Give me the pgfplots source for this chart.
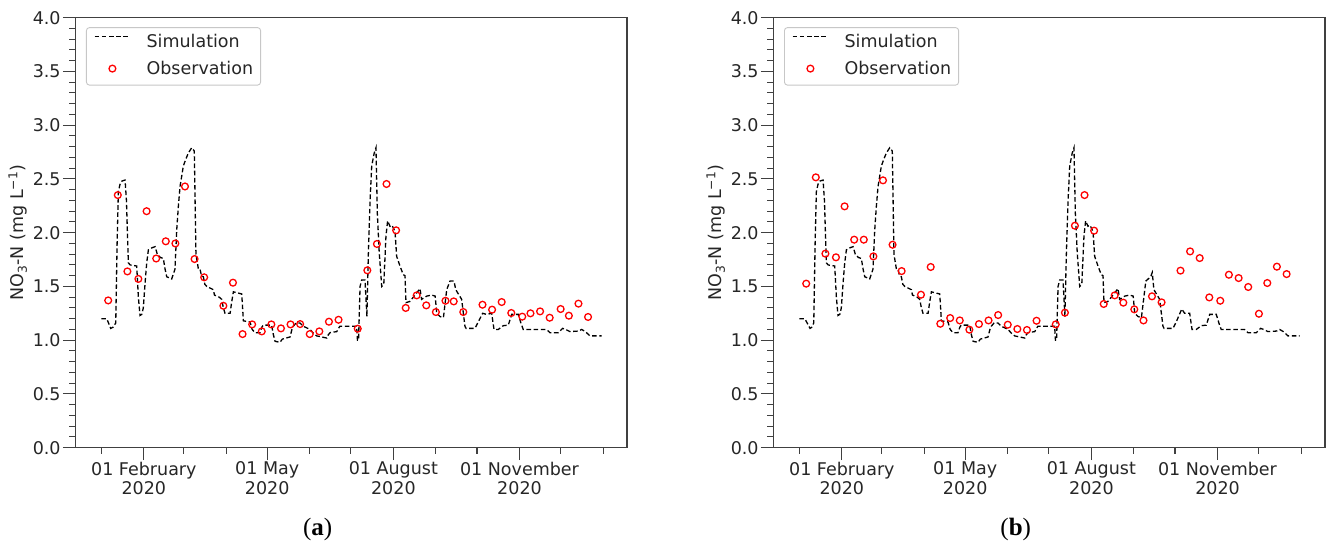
\documentclass[border=0pt]{standalone}
\usepackage{fontspec}
\setmainfont{DejaVu Sans}
\newfontfamily\capfont{Liberation Serif}
\usepackage{pgfplots}
\pgfplotsset{compat=1.18}
\usepackage{pgfplotstable}

\pgfplotstableread{
d v
0 1.20
4 1.20
6.8 1.11
8.5 1.12
10.5 1.16
11.5 1.90
12.4 2.38
13.6 2.45
15 2.48
17.3 2.49
18.3 2.30
19.7 1.72
21 1.70
25.8 1.69
27 1.40
28.2 1.23
29.5 1.24
30.6 1.30
32 1.55
33.1 1.72
34.3 1.84
37 1.86
39.2 1.87
40.8 1.80
43 1.77
45.2 1.76
46.5 1.66
47.7 1.59
51.3 1.57
53.7 1.66
55 2.03
56.2 2.25
57.4 2.43
59.8 2.62
61.5 2.68
63.4 2.74
65.9 2.79
67.8 2.76
68.5 2.20
69.0 1.80
70.8 1.66
72 1.66
73 1.60
74.4 1.59
75.5 1.52
76.9 1.50
81.7 1.47
82.5 1.42
86 1.40
87.8 1.38
89 1.30
90.2 1.25
93.9 1.25
95 1.35
96.3 1.45
102.4 1.43
103.6 1.18
108.4 1.17
110 1.10
112.1 1.07
115.7 1.07
117 1.12
118.1 1.14
124.2 1.14
125.5 1.05
126.7 0.99
130.3 0.98
132 1.01
137.6 1.03
139 1.10
140 1.13
142 1.16
144.9 1.16
147.3 1.13
152.2 1.10
155 1.06
157.1 1.04
164.4 1.02
165.5 1.05
166.8 1.07
171.7 1.08
173 1.11
174 1.13
186.2 1.13
186.8 1.00
187.6 1.00
188.7 1.50
189.9 1.56
192.3 1.56
193.7 1.22
194.7 1.78
196 2.30
197.2 2.62
199 2.74
200.3 2.79
201.3 2.18
202.7 1.81
204.5 1.50
206 1.52
207.6 1.97
208.8 2.11
210.5 2.06
212 2.07
214.2 2.01
215.4 1.78
217.8 1.69
220.2 1.61
221.5 1.60
222.2 1.35
225 1.36
228.8 1.42
232.4 1.48
233.6 1.38
237.3 1.41
240.9 1.42
243.5 1.41
244.6 1.25
247 1.22
249.5 1.21
251.9 1.47
254.3 1.55
257.2 1.55
258.5 1.47
262.8 1.38
265.2 1.13
266 1.11
272.5 1.11
274.9 1.17
278.1 1.25
281 1.24
284.7 1.25
286.4 1.10
289.5 1.10
293.2 1.135
296.8 1.14
299.3 1.24
304.1 1.24
306 1.16
307.7 1.10
324.7 1.10
327.2 1.07
333.3 1.07
336.5 1.11
338.6 1.10
341.8 1.08
348 1.085
350.3 1.10
353 1.08
356.4 1.04
364.9 1.04
}\simA

\pgfplotstableread{
d v
0 1.20
4 1.20
7.8 1.11
9 1.12
10.5 1.16
11.5 1.90
12.4 2.38
13.6 2.45
15 2.48
17.3 2.49
18.3 2.30
19.7 1.72
21 1.70
25.8 1.69
27 1.40
28.2 1.23
29.5 1.24
30.6 1.30
32 1.55
33.1 1.72
34.3 1.84
37 1.86
39.2 1.87
40.8 1.80
43 1.77
45.2 1.76
46.5 1.66
47.7 1.59
51.3 1.57
53.7 1.66
55 2.03
56.2 2.25
57.4 2.43
59.8 2.62
61.5 2.68
63.4 2.74
65.9 2.79
67.8 2.76
68.5 2.20
69.0 1.80
70.8 1.66
72 1.66
73 1.60
74.4 1.59
75.5 1.52
76.9 1.50
81.7 1.47
82.5 1.42
86 1.40
87.8 1.38
89 1.30
90.2 1.25
93.9 1.25
95 1.35
96.3 1.45
102.4 1.43
103.6 1.18
108.4 1.17
110 1.10
112.1 1.07
115.7 1.07
117 1.12
118.1 1.14
124.2 1.14
125.5 1.05
126.7 0.99
130.3 0.98
132 1.01
137.6 1.03
139 1.10
140 1.13
142 1.16
144.9 1.16
147.3 1.13
152.2 1.10
155 1.06
157.1 1.04
164.4 1.02
165.5 1.05
166.8 1.07
171.7 1.08
173 1.11
174 1.13
186.2 1.13
186.8 1.00
187.6 1.00
188.7 1.50
189.9 1.56
192.3 1.56
193.7 1.22
194.7 1.78
196 2.30
197.2 2.62
199 2.74
200.3 2.79
201.3 2.18
202.7 1.81
204.5 1.50
206 1.52
207.6 1.97
208.8 2.11
210.5 2.06
212 2.07
214.2 2.01
215.4 1.78
217.8 1.69
220.2 1.61
221.5 1.60
222.2 1.35
225 1.36
228.8 1.42
232.4 1.48
233.6 1.38
237.3 1.41
240.9 1.42
243.5 1.41
244.6 1.25
247 1.22
249.5 1.21
252.7 1.55
256.2 1.59
257.4 1.63
258.6 1.47
262.8 1.38
265.2 1.13
266 1.11
272.5 1.11
274.9 1.17
278.9 1.29
281 1.25
284.7 1.25
286.4 1.10
289.5 1.10
293.2 1.135
296.8 1.14
299.3 1.24
304.1 1.24
306 1.16
307.7 1.10
324.7 1.10
327.2 1.07
333.3 1.07
336.5 1.11
338.6 1.10
341.8 1.08
348 1.085
350.3 1.10
353 1.08
356.4 1.04
364.9 1.04
}\simB

\pgfplotstableread{
d v
5 1.37
12 2.35
19 1.64
27 1.57
33 2.20
40 1.76
47 1.92
54 1.90
61 2.43
68 1.755
75 1.585
89 1.32
96 1.535
103 1.057
110 1.147
117 1.082
124 1.147
131 1.11
138 1.147
145 1.15
152 1.057
159 1.082
166 1.172
173 1.19
187 1.107
194 1.65
201 1.895
208 2.453
215 2.022
222 1.30
230 1.417
237 1.324
244 1.262
251 1.367
257 1.361
264 1.262
278 1.33
285 1.284
292 1.355
299 1.253
307 1.219
313 1.25
320 1.268
327 1.209
335 1.29
341 1.228
348 1.34
355 1.216
}\obsA

\pgfplotstableread{
d v
5 1.526
12 2.515
19 1.805
26.7 1.771
33 2.245
40 1.935
47 1.935
54 1.78
61 2.487
68 1.888
74.6 1.643
88.7 1.423
95.8 1.681
102.8 1.153
110 1.206
117 1.184
124 1.098
131 1.15
138 1.184
145 1.234
152 1.144
159 1.104
166 1.095
173 1.181
187 1.147
193.7 1.256
201 2.065
208 2.35
215 2.019
222 1.337
230 1.417
236.3 1.349
244.3 1.287
251 1.184
257.2 1.408
264.2 1.352
278 1.647
285 1.826
292 1.764
299 1.398
307 1.367
313.3 1.609
320.4 1.578
327.4 1.495
335.2 1.246
341.3 1.532
348.3 1.684
355.4 1.615
}\obsB

\pgfplotsset{
  myaxis/.style={
    width=551.7bp, height=430bp, scale only axis,
    anchor=south west,
    xmin=-19, xmax=383.4, ymin=0, ymax=4,
    axis line style={draw=black!75, line width=1.1bp},
    tick style={draw=black!75, line width=1.1bp},
    tick align=outside, xtick pos=bottom, ytick pos=left,
    major tick length=12.5bp, minor tick length=6bp,
    xtick={31,121,213,305},
    xticklabels={{01 February\\2020},{01 May\\2020},{01 August\\2020},{01 November\\2020}},
    minor xtick={0,60,91,152,182,244,274,335,366},
    ytick={0,0.5,1,1.5,2,2.5,3,3.5,4},
    minor y tick num=4,
    yticklabel style={/pgf/number format/.cd,fixed,fixed zerofill,precision=1,/tikz/.cd, inner xsep=2bp},
    /pgf/number format/assume math mode=true,
    tick label style={font=\fontsize{17.5bp}{19.5bp}\selectfont, text=black!85},
    xticklabel style={align=center, inner ysep=1.5bp},
    ylabel={NO\textsubscript{3}-N (mg L\textsuperscript{−1})},
    ylabel style={at={(axis description cs:-0.104,0.5)}, anchor=center, font=\fontsize{17.5bp}{20bp}\selectfont, text=black!85},
    legend cell align=left,
    legend style={at={(axis description cs:0.0194,0.978)}, anchor=north west,
      draw=black!22, line width=0.9bp, rounded corners=3bp, fill=white,
      font=\fontsize{17.5bp}{20bp}\selectfont, text=black!85,
      inner xsep=7.5bp, inner ysep=7bp, column sep=15.7bp, row sep=9.5bp,
      nodes={inner sep=0bp, text depth=3.7bp}},
  },
  simstyle/.style={black, line width=1.3bp, dash pattern=on 4.6bp off 2.6bp,
    legend image code/.code={\draw[##1] (0bp,6.3bp) -- (35.6bp,6.3bp);}},
  obsstyle/.style={only marks, mark=o, mark size=3.4bp, red, line width=1.3bp,
    legend image code/.code={\path[draw=none,fill=none] (0bp,1bp) rectangle (35.6bp,1.1bp);\draw[red, line width=1.3bp, solid] (17.8bp,1bp) circle[radius=3.4bp];}},
}

\begin{document}
\begin{tikzpicture}
\useasboundingbox (0,0) rectangle (1328bp,545bp);
\begin{axis}[myaxis, at={(75.3bp,97.3bp)}]
\addplot[simstyle] table[x=d,y=v] {\simA};
\addlegendentry{Simulation}
\addplot[obsstyle] table[x=d,y=v] {\obsA};
\addlegendentry{Observation}
\end{axis}
\begin{axis}[myaxis, at={(773.3bp,97.3bp)}]
\addplot[simstyle] table[x=d,y=v] {\simB};
\addlegendentry{Simulation}
\addplot[obsstyle] table[x=d,y=v] {\obsB};
\addlegendentry{Observation}
\end{axis}
\node[font=\capfont\fontsize{25bp}{28bp}\selectfont] at (317.7bp,16bp) {(\textbf{a})};
\node[font=\capfont\fontsize{25bp}{28bp}\selectfont] at (1015.7bp,16bp) {(\textbf{b})};
\end{tikzpicture}
\end{document}
